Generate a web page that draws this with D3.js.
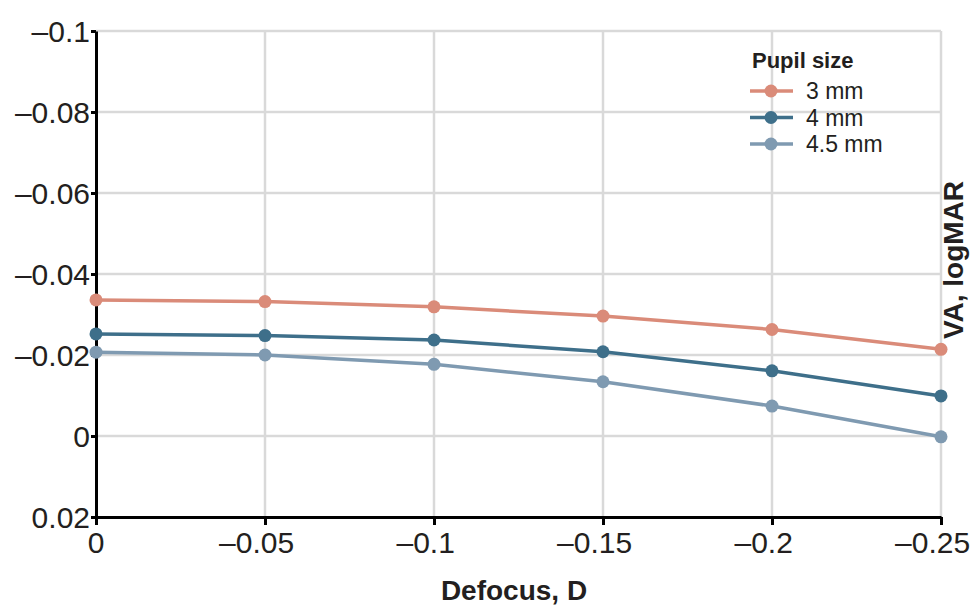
<!DOCTYPE html>
<html>
<head>
<meta charset="utf-8">
<script src="https://cdn.jsdelivr.net/npm/d3@7"></script>
<style>
  body { margin: 0; background: #fff; }
  text { font-family: "Liberation Sans", Arial, Helvetica, sans-serif; fill: #231f20; }
</style>
</head>
<body>
<div id="vis"></div>
<script>
// defocus values (x) and VA per pupil size (y)
const defocus = [0, -0.05, -0.1, -0.15, -0.2, -0.25];
const seriesNames = ["3 mm", "4 mm", "4.5 mm"];
const va3 = [-0.0336, -0.0332, -0.0319, -0.0296, -0.0263, -0.0214];
const va4 = [-0.0252, -0.0248, -0.0237, -0.0208, -0.0161, -0.0099];
const va45 = [-0.0207, -0.0200, -0.0177, -0.0134, -0.0074, 0.0002];
const colors = ["#da8b79", "#3e6f8a", "#7f9ab1"];
const xTicks = [0, -0.05, -0.1, -0.15, -0.2, -0.25];
const yTicks = [-0.1, -0.08, -0.06, -0.04, -0.02, 0, 0.02];

const W = 971, H = 607;
const margin = { top: 31, right: 30, bottom: 90, left: 96 };

const svg = d3.select("#vis").append("svg")
    .attr("width", W)
    .attr("height", H);

const x = d3.scaleLinear()
    .domain([0, -0.25])
    .range([margin.left, 941]);

const y = d3.scaleLinear()
    .domain([-0.1, 0.02])
    .range([margin.top, 517]);

const fmt = (v) => v === 0 ? "0" : String(Math.abs(v));

// grid
svg.append("g").selectAll("line")
    .data(xTicks.slice(1))
    .join("line")
    .attr("x1", (d) => x(d)).attr("x2", (d) => x(d))
    .attr("y1", y(-0.1)).attr("y2", y(0.02))
    .attr("stroke", "#d9d9d9").attr("stroke-width", 2.5);

svg.append("g").selectAll("line")
    .data(yTicks.slice(0, -1))
    .join("line")
    .attr("x1", x(0)).attr("x2", x(-0.25))
    .attr("y1", (d) => y(d)).attr("y2", (d) => y(d))
    .attr("stroke", "#d9d9d9").attr("stroke-width", 2.5);

// axes
const xAxis = svg.append("g")
    .attr("transform", `translate(0,${y(0.02)})`)
    .call(d3.axisBottom(x).tickValues(xTicks).tickSize(8).tickSizeOuter(0).tickFormat(""));

const yAxis = svg.append("g")
    .attr("transform", `translate(${x(0)},0)`)
    .call(d3.axisLeft(y).tickValues(yTicks).tickSize(5).tickSizeOuter(0).tickFormat(""));

[xAxis, yAxis].forEach((g) => {
    g.select(".domain").attr("stroke", "#000").attr("stroke-width", 3);
    g.selectAll(".tick line").attr("stroke", "#000").attr("stroke-width", 3);
});

// y tick labels (en dash as minus)
svg.append("g").selectAll("text")
    .data(yTicks)
    .join("text")
    .attr("x", x(0) - 6)
    .attr("y", (d) => y(d))
    .attr("dy", "0.36em")
    .attr("text-anchor", "end")
    .style("font-size", "30px")
    .text((d) => (d < 0 ? "\u2013" : "") + fmt(d));

// x tick labels: number centred on tick, minus hanging left
const xl = svg.append("g");
xTicks.forEach((d) => {
    const t = xl.append("text")
        .attr("x", x(d))
        .attr("y", 553)
        .attr("text-anchor", "middle")
        .style("font-size", "30px")
        .text(fmt(d));
    if (d < 0) {
        const w = t.node().getComputedTextLength();
        xl.append("text")
            .attr("x", x(d) - w / 2)
            .attr("y", 553)
            .attr("text-anchor", "end")
            .style("font-size", "30px")
            .text("\u2013");
    }
});

// series
const series = [va3, va4, va45].map((vals, i) => ({
    name: seriesNames[i],
    color: colors[i],
    points: vals.map((v, j) => ({ x: defocus[j], y: v }))
}));

const line = d3.line().x((d) => x(d.x)).y((d) => y(d.y));

// draw the lightest series first so darker ones sit on top
series.slice().reverse().forEach((s) => {
    svg.append("path")
        .datum(s.points)
        .attr("fill", "none")
        .attr("stroke", s.color)
        .attr("stroke-width", 3.5)
        .attr("d", line);
    svg.append("g").selectAll("circle")
        .data(s.points)
        .join("circle")
        .attr("cx", (d) => x(d.x))
        .attr("cy", (d) => y(d.y))
        .attr("r", 6.5)
        .attr("fill", s.color);
});

// legend
const legend = svg.append("g");
legend.append("text")
    .attr("x", 752).attr("y", 68)
    .style("font-size", "22px").style("font-weight", "bold")
    .text("Pupil size");

series.forEach((s, i) => {
    const ly = 91 + i * 26.5;
    legend.append("line")
        .attr("x1", 750).attr("x2", 793)
        .attr("y1", ly).attr("y2", ly)
        .attr("stroke", s.color).attr("stroke-width", 3.5);
    legend.append("circle")
        .attr("cx", 771).attr("cy", ly).attr("r", 6.5)
        .attr("fill", s.color);
    legend.append("text")
        .attr("x", 806).attr("y", ly)
        .attr("dy", "0.36em")
        .style("font-size", "23px")
        .text(s.name);
});

// axis titles
svg.append("text")
    .attr("x", 514).attr("y", 600)
    .attr("text-anchor", "middle")
    .style("font-size", "28px").style("font-weight", "bold")
    .text("Defocus, D");

svg.append("text")
    .attr("transform", "translate(963,260) rotate(-90)")
    .attr("text-anchor", "middle")
    .style("font-size", "28px").style("font-weight", "bold")
    .text("VA, logMAR");
</script>
</body>
</html>
